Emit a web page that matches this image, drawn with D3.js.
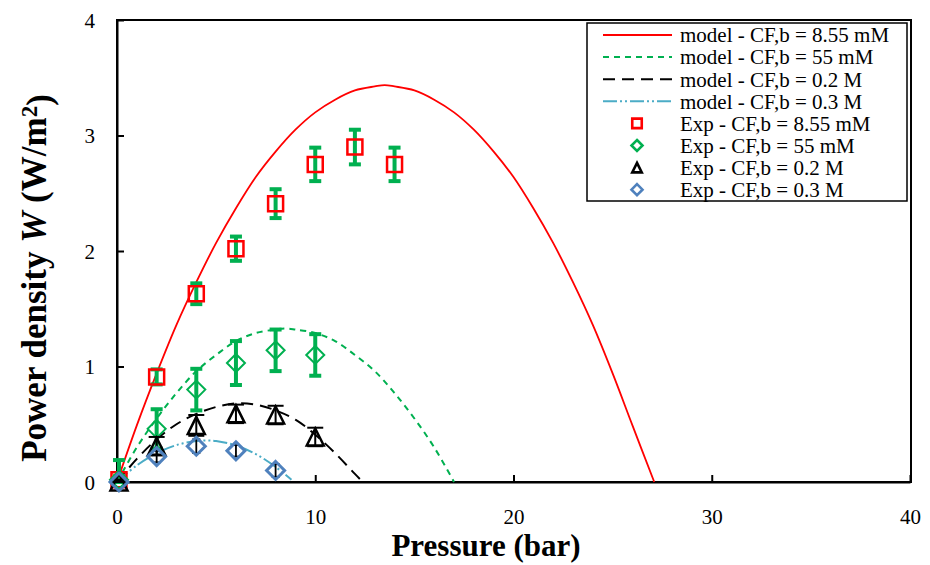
<!DOCTYPE html>
<html><head><meta charset="utf-8">
<script src="https://cdn.jsdelivr.net/npm/d3@7"></script>
<style>body{margin:0;background:#fff}</style>
</head><body><svg id="c" width="930" height="565"></svg>
<script>
// ---- experimental data ----
const pressureRed = [0.1, 2, 4, 6, 8, 10, 12, 14];
const expRed = [0.02, 0.91, 1.63, 2.02, 2.41, 2.75, 2.90, 2.75];
const errRed = [0.03, 0.065, 0.09, 0.105, 0.125, 0.145, 0.15, 0.145];

const pressureGreen = [0.1, 2, 4, 6, 8, 10];
const expGreen = [0.02, 0.46, 0.80, 1.03, 1.14, 1.10];
const errGreen = [0.17, 0.17, 0.18, 0.19, 0.18, 0.18];

const pressureBlack = [0.1, 2, 4, 6, 8, 10];
const expBlack = [0.0, 0.31, 0.49, 0.59, 0.58, 0.39];
const errBlack = [0.02, 0.08, 0.09, 0.08, 0.08, 0.08];

const pressureBlue = [0.1, 2, 4, 6, 8];
const expBlue = [0.0, 0.22, 0.31, 0.27, 0.10];
const errBlue = [0.01, 0.05, 0.06, 0.05, 0.055];

// ---- model curves ----
const modelPRed = [0,1,2,3,4,5,6,7,8,9,10,11,12,13,13.5,14,15,16,17,18,19,20,21,22,23,24,25,26,27.1];
const modelRed  = [0,0.49,0.94,1.36,1.73,2.07,2.37,2.64,2.86,3.05,3.20,3.31,3.39,3.425,3.437,3.425,3.39,3.31,3.20,3.05,2.86,2.64,2.37,2.07,1.73,1.36,0.94,0.49,0];
const modelPGreen = [0,1,2,3,4,5,6,7,8,8.5,9,10,11,12,13,14,15,16,17];
const modelGreen  = [0,0.30,0.55,0.77,0.96,1.10,1.22,1.29,1.32,1.33,1.32,1.29,1.22,1.10,0.96,0.77,0.55,0.30,0];
const modelPBlack = [0,1,2,3,4,5,6,7,8,9,10,11,12,12.4];
const modelBlack  = [0,0.20,0.37,0.50,0.59,0.65,0.68,0.67,0.62,0.54,0.41,0.25,0.07,0];
const modelPBlue = [0,1,2,3,4,4.45,5,6,7,8,8.8];
const modelBlue  = [0,0.144,0.25,0.32,0.355,0.36,0.355,0.316,0.242,0.131,0.02];

const xTicks = [0, 10, 20, 30, 40];
const yTicks = [0, 1, 2, 3, 4];
const legendLabels = ["model - CF,b = 8.55 mM","model - CF,b = 55 mM","model - CF,b = 0.2 M","model - CF,b = 0.3 M",
  "Exp - CF,b = 8.55 mM","Exp - CF,b = 55 mM","Exp - CF,b = 0.2 M","Exp - CF,b = 0.3 M"];

const RED = "#ff0000", GREEN = "#00b050", BLACK = "#000000", BLUE_L = "#4bacc6", BLUE_M = "#4f81bd";
const FONT = "'Liberation Serif', 'Times New Roman', serif";

const svg = d3.select("#c");
const L = 117, R = 910, T = 20, B = 482;
const x = d3.scaleLinear().domain([0, 40]).range([L, R]);
const y = d3.scaleLinear().domain([0, 4]).range([B, T]);

// frame
svg.append("rect").attr("x", L).attr("y", T).attr("width", R - L + 1).attr("height", B - T)
  .attr("fill", "none").attr("stroke", "#000").attr("stroke-width", 2);

// axes
const gx = svg.append("g").attr("transform", `translate(0,${B})`)
  .call(d3.axisBottom(x).tickValues(xTicks).tickSizeInner(-7).tickSizeOuter(0).tickFormat(d3.format("d")));
gx.select(".domain").attr("stroke-width", 2);
gx.selectAll(".tick line").attr("stroke-width", 2);
gx.selectAll(".tick text").attr("y", 42).attr("dy", null)
  .style("font-family", FONT).style("font-size", "21px").attr("fill", "#000");

const gy = svg.append("g").attr("transform", `translate(${L},0)`)
  .call(d3.axisLeft(y).tickValues(yTicks).tickSizeInner(-7).tickSizeOuter(0).tickFormat(d3.format("d")));
gy.select(".domain").attr("stroke-width", 2);
gy.selectAll(".tick line").attr("stroke-width", 2);
gy.selectAll(".tick text").attr("x", -22).attr("dy", "0.34em")
  .style("font-family", FONT).style("font-size", "21px").attr("fill", "#000");

// axis titles
svg.append("text").attr("x", 486).attr("y", 556).attr("text-anchor", "middle")
  .style("font-family", FONT).style("font-size", "31px").style("font-weight", "bold")
  .text("Pressure (bar)");
const yt = svg.append("text").attr("transform", "translate(46,278) rotate(-90)").attr("text-anchor", "middle")
  .style("font-family", FONT).style("font-size", "35px").style("font-weight", "bold");
yt.append("tspan").text("Power density ");
yt.append("tspan").style("font-style", "italic").text("W");
yt.append("tspan").text(" (W/m");
yt.append("tspan").attr("dy", "-0.4em").style("font-size", "23px").text("2");
yt.append("tspan").attr("dy", "0.4em").text(")");

// model curves
const line = d3.line().x(d => x(d[0])).y(d => y(d[1])).curve(d3.curveCatmullRom.alpha(0.5));
const models = [
  {p: modelPRed, v: modelRed, color: RED, dash: null, w: 1.8},
  {p: modelPGreen, v: modelGreen, color: GREEN, dash: "6,5", w: 2},
  {p: modelPBlack, v: modelBlack, color: BLACK, dash: "12,7", w: 2},
  {p: modelPBlue, v: modelBlue, color: BLUE_L, dash: "14,3,2,3,2,3", w: 2}
];
models.forEach(m => {
  svg.append("path").datum(m.p.map((p, i) => [p, m.v[i]]))
    .attr("d", line).attr("fill", "none").attr("stroke", m.color)
    .attr("stroke-width", m.w).attr("stroke-dasharray", m.dash);
});

// marker shapes
function markerPath(type, s) {
  const h = s / 2;
  if (type === "square") return `M${-h},${-h}H${h}V${h}H${-h}Z`;
  if (type === "diamond") return `M0,${-h}L${h},0L0,${h}L${-h},0Z`;
  if (type === "triangle") return `M0,${-h}L${h},${h}L${-h},${h}Z`;
}

const series = [
  {p: pressureRed, v: expRed, e: errRed, shape: "square", size: 15, color: RED, sw: 2.5, ec: GREEN, ew: 4, cw: 12, cs: 4},
  {p: pressureGreen, v: expGreen, e: errGreen, shape: "diamond", size: 18, color: GREEN, sw: 2, ec: GREEN, ew: 4, cw: 12, cs: 4},
  {p: pressureBlack, v: expBlack, e: errBlack, shape: "triangle", size: 17, color: BLACK, sw: 2.5, ec: BLACK, ew: 2, cw: 16, cs: 2},
  {p: pressureBlue, v: expBlue, e: errBlue, shape: "diamond", size: 18, color: BLUE_M, sw: 3, ec: BLACK, ew: 1.8, cw: 8, cs: 1.8}
];
series.forEach(s => {
  const g = svg.append("g");
  s.p.forEach((p, i) => {
    const cx = x(p), top = y(s.v[i] + s.e[i]), bot = y(Math.max(0, s.v[i] - s.e[i]));
    g.append("line").attr("x1", cx).attr("x2", cx).attr("y1", top).attr("y2", bot)
      .attr("stroke", s.ec).attr("stroke-width", s.ew);
    [top, bot].forEach(yy => g.append("line").attr("x1", cx - s.cw / 2).attr("x2", cx + s.cw / 2)
      .attr("y1", yy).attr("y2", yy).attr("stroke", s.ec).attr("stroke-width", s.cs));
  });
  s.p.forEach((p, i) => {
    g.append("path").attr("d", markerPath(s.shape, s.size))
      .attr("transform", `translate(${x(p)},${y(s.v[i])})`)
      .attr("fill", "none").attr("stroke", s.color).attr("stroke-width", s.sw);
  });
});

// legend
const lg = svg.append("g");
lg.append("rect").attr("x", 587).attr("y", 23).attr("width", 320).attr("height", 178)
  .attr("fill", "#fff").attr("stroke", "#000").attr("stroke-width", 1.5);
const rowY = i => 35 + i * 22.1;
legendLabels.forEach((t, i) => {
  lg.append("text").attr("x", 680).attr("y", rowY(i)).attr("dy", "0.35em")
    .style("font-family", FONT).style("font-size", "21px").text(t);
  if (i < 4) {
    const m = models[i];
    lg.append("line").attr("x1", 603).attr("x2", 672).attr("y1", rowY(i)).attr("y2", rowY(i))
      .attr("stroke", m.color).attr("stroke-width", m.w).attr("stroke-dasharray", m.dash);
  } else {
    const s = series[i - 4];
    lg.append("path").attr("d", markerPath(s.shape, s.shape === "diamond" ? 11 : 9.5))
      .attr("transform", `translate(637,${rowY(i)})`)
      .attr("fill", "none").attr("stroke", s.color).attr("stroke-width", 2.6);
  }
});
</script></body></html>
